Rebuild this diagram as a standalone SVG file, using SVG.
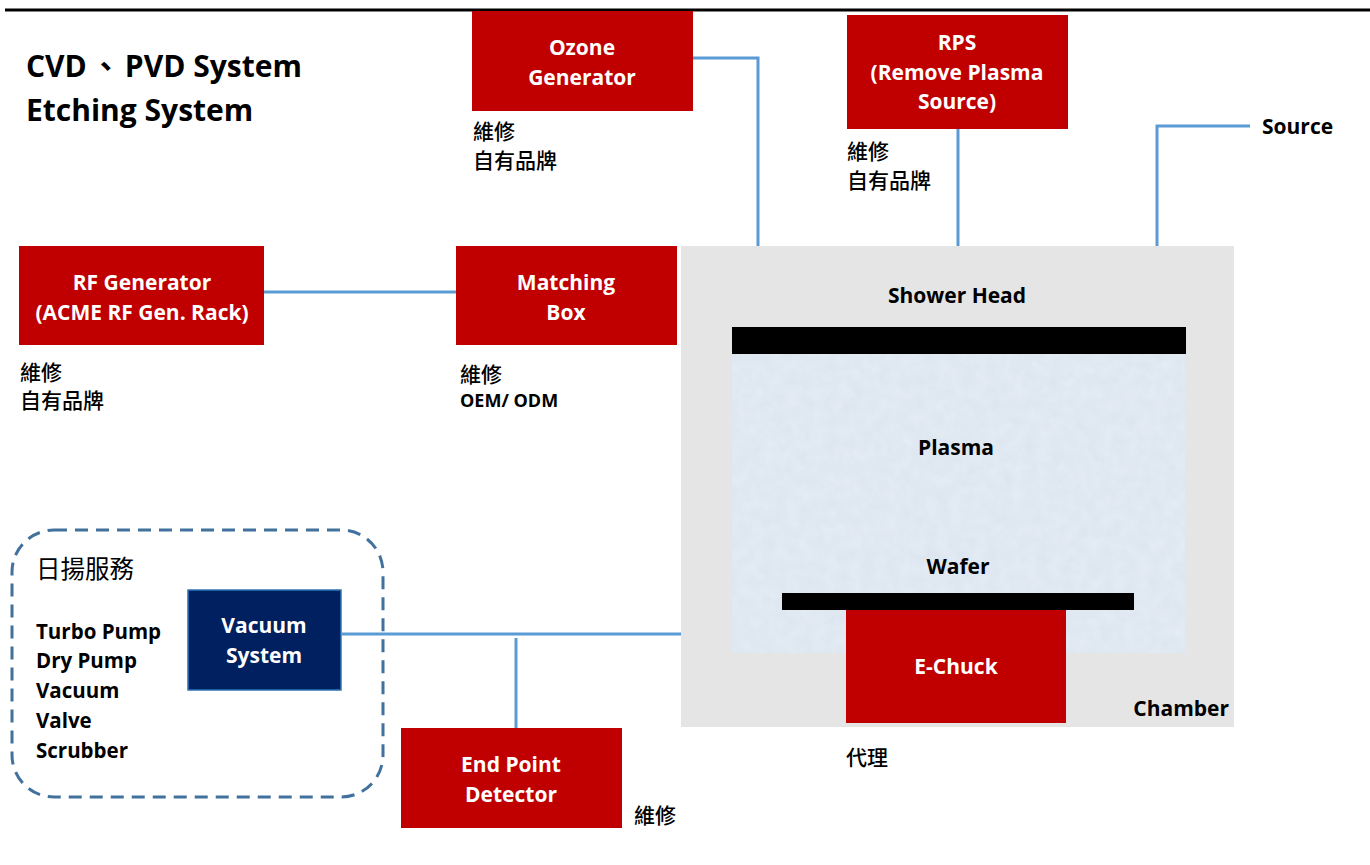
<svg xmlns="http://www.w3.org/2000/svg" width="1370" height="865" viewBox="0 0 1370 865">
<defs>
<style>
.t{font-family:"Open Sans","Noto Sans CJK TC",sans-serif;font-weight:700;fill:#000}
.w{font-family:"Open Sans","Noto Sans CJK TC",sans-serif;font-weight:700;fill:#fff;font-size:21px;text-anchor:middle}
.cj{font-family:"Noto Sans CJK TC",sans-serif;font-weight:500;fill:#000;font-size:21px}
.red{fill:#C00000}
.conn{fill:none;stroke:#5B9BD5;stroke-width:3}
</style>
<filter id="tex" x="0" y="0" width="100%" height="100%">
<feTurbulence type="fractalNoise" baseFrequency="0.08" numOctaves="3" seed="4" result="n"/>
<feColorMatrix in="n" type="matrix" values="0 0 0 0 0.86  0 0 0 0 0.9  0 0 0 0 0.95  0 0 0 -0.9 0.75" result="c"/>
<feComposite in="c" in2="SourceGraphic" operator="in"/>
</filter>
</defs>
<rect width="1370" height="865" fill="#fff"/>
<line x1="5" y1="10" x2="1370" y2="10" stroke="#000" stroke-width="3"/>
<text class="t" x="26" y="77" font-size="30">CVD<tspan dx="4">、</tspan><tspan dx="4">PVD System</tspan></text>
<text class="t" x="26" y="121" font-size="30">Etching System</text>

<g id="connectors">
<polyline class="conn" points="693,58 758,58 758,246"/>
<line class="conn" x1="958" y1="129" x2="958" y2="246"/>
<polyline class="conn" points="1157,246 1157,126 1250,126"/>
<line class="conn" x1="264" y1="292" x2="456" y2="292"/>
<line class="conn" x1="342" y1="634" x2="681" y2="634"/>
<line class="conn" x1="516" y1="638" x2="516" y2="728"/>
</g>

<g id="chamber">
<rect x="681" y="246" width="553" height="481" fill="#E5E5E5"/>
<rect x="732" y="354" width="453" height="299" fill="#DDE6F0"/>
<rect x="732" y="354" width="453" height="299" fill="#DDE6F0" filter="url(#tex)" opacity="0.6"/>
<rect x="732" y="327" width="454" height="27" fill="#000"/>
<rect x="782" y="593" width="352" height="17" fill="#000"/>
<text class="t" x="957" y="303" font-size="21" text-anchor="middle">Shower Head</text>
<text class="t" x="956" y="455" font-size="21" text-anchor="middle">Plasma</text>
<text class="t" x="958" y="574" font-size="21" text-anchor="middle">Wafer</text>
<text class="t" x="1229" y="716" font-size="21" text-anchor="end">Chamber</text>
</g>

<g id="echuck">
<rect class="red" x="846" y="610" width="220" height="113"/>
<text class="w" x="956" y="674">E-Chuck</text>
<text class="cj" x="846" y="765">代理</text>
</g>

<g id="ozone">
<rect class="red" x="472" y="11" width="221" height="100"/>
<text class="w" x="582" y="55">Ozone</text>
<text class="w" x="582" y="85">Generator</text>
<text class="cj" x="473" y="139">維修</text>
<text class="cj" x="473" y="168">自有品牌</text>
</g>

<g id="rps">
<rect class="red" x="847" y="15" width="221" height="114"/>
<text class="w" x="957" y="50">RPS</text>
<text class="w" x="957" y="80">(Remove Plasma</text>
<text class="w" x="957" y="109">Source)</text>
<text class="cj" x="847" y="159">維修</text>
<text class="cj" x="847" y="188">自有品牌</text>
</g>

<g id="source">
<text class="t" x="1262" y="134" font-size="21">Source</text>
</g>

<g id="rfgen">
<rect class="red" x="19" y="246" width="245" height="99"/>
<text class="w" x="142" y="290">RF Generator</text>
<text class="w" x="142" y="320">(ACME RF Gen. Rack)</text>
<text class="cj" x="20" y="380">維修</text>
<text class="cj" x="20" y="408">自有品牌</text>
</g>

<g id="matching">
<rect class="red" x="456" y="246" width="221" height="99"/>
<text class="w" x="566" y="290">Matching</text>
<text class="w" x="566" y="320">Box</text>
<text class="cj" x="460" y="382">維修</text>
<text class="t" x="460" y="407" font-size="18">OEM/ ODM</text>
</g>

<g id="vacuum-group">
<rect x="12" y="530" width="371" height="267" rx="42" fill="none" stroke="#41719C" stroke-width="3" stroke-dasharray="13 8"/>
<text x="36" y="578" font-family="Noto Sans CJK TC,sans-serif" font-size="24.5" fill="#000">日揚服務</text>
<text class="t" x="36" y="639" font-size="20.5">Turbo Pump</text>
<text class="t" x="36" y="668" font-size="20.5">Dry Pump</text>
<text class="t" x="36" y="698" font-size="20.5">Vacuum</text>
<text class="t" x="36" y="728" font-size="20.5">Valve</text>
<text class="t" x="36" y="758" font-size="20.5">Scrubber</text>
</g>

<g id="vacuum">
<rect x="188" y="590" width="153" height="100" fill="#002060" stroke="#2E75B6" stroke-width="1.5"/>
<text class="w" x="264" y="633">Vacuum</text>
<text class="w" x="264" y="663">System</text>
</g>

<g id="endpoint">
<rect class="red" x="401" y="728" width="221" height="100"/>
<text class="w" x="511" y="772">End Point</text>
<text class="w" x="511" y="802">Detector</text>
<text class="cj" x="634" y="823">維修</text>
</g>
</svg>
